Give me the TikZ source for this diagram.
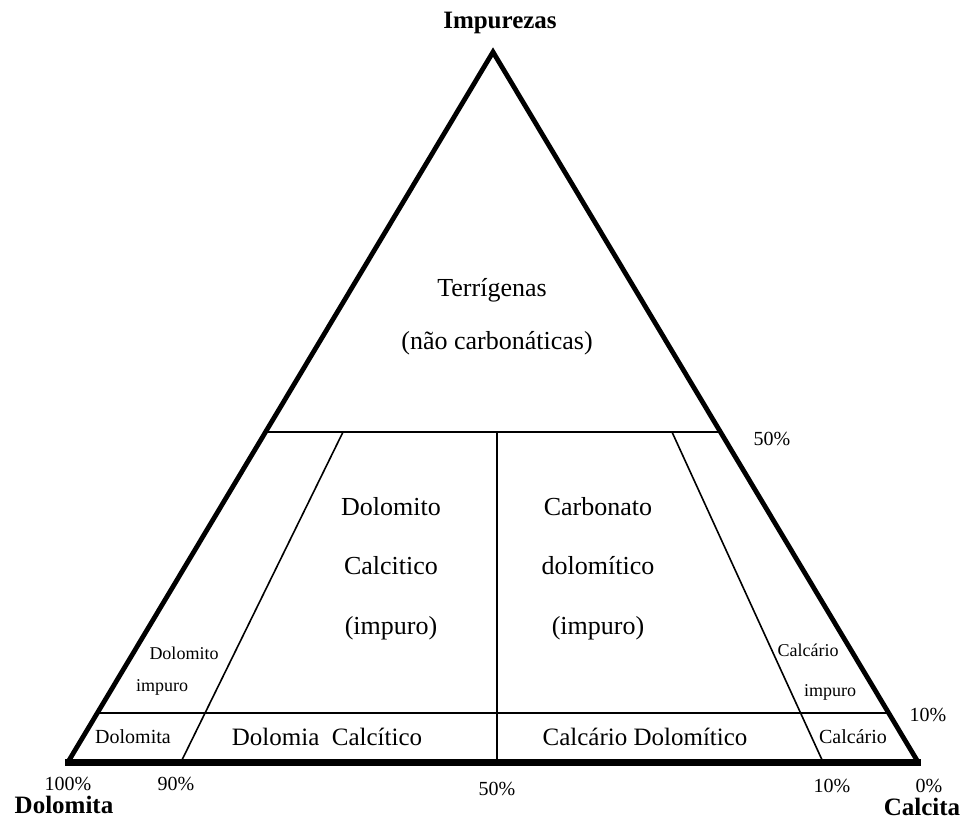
\documentclass[tikz,border=0pt]{standalone}
\usepackage{fontspec}
\setmainfont{Liberation Serif}
\usetikzlibrary{calc}

\begin{document}
\begin{tikzpicture}[x=1pt, y=-1pt,
    big/.style={font=\fontsize{26}{30}\selectfont},
    mid/.style={font=\fontsize{20}{24}\selectfont},
    small/.style={font=\fontsize{18}{22}\selectfont},
    pole/.style={font=\fontsize{25}{28}\selectfont\bfseries},
    inner/.style={line width=1.6pt}]
        \useasboundingbox (0,0) rectangle (963,820);
        % Corners of the triangle
        \coordinate (top) at (493,52);
        \coordinate (dol) at (68,762);
        \coordinate (cal) at (918,762);
        % Limits at 50% and 10% impurities
        \coordinate (l50) at ($(dol)!0.4648!(top)$);
        \coordinate (r50) at ($(cal)!0.4648!(top)$);
        \coordinate (l10) at ($(dol)!0.069!(top)$);
        \coordinate (r10) at ($(cal)!0.069!(top)$);
        % Inner boundaries
        \coordinate (a50) at (343,432);
        \coordinate (a0) at (181,762);
        \coordinate (m50) at (497,432);
        \coordinate (m0) at (497,762);
        \coordinate (b50) at (672,432);
        \coordinate (b0) at (823,762);
        \draw [line width=2pt] (l50) -- (r50);
        \draw [line width=1.8pt] (l10) -- (r10);
        \draw [inner] (a50) -- (a0);
        \draw [inner] (m50) -- (m0);
        \draw [inner] (b50) -- (b0);
        % Outline
        \draw [line width=4.8pt, line join=miter] (dol) -- (top) -- (cal);
        \draw [line width=7pt] ($(dol)+(-3,0)$) -- ($(cal)+(3,0)$);
        % Fields
        \node [pole] (imp) at (500,23) {Impurezas};
        \node [big] (terr) at (492,290) {Terrígenas};
        \node [big] (terr2) at (497,343) {(não carbonáticas)};
        \node [big] (dc1) at (391,507) {Dolomito};
        \node [big] (dc2) at (391,566) {Calcitico};
        \node [big] (dc3) at (391,628) {(impuro)};
        \node [big] (cd1) at (598,507) {Carbonato};
        \node [big] (cd2) at (598,566) {dolomítico};
        \node [big] (cd3) at (598,628) {(impuro)};
        \node [small] (di1) at (184,653) {Dolomito};
        \node [small] (di2) at (162,687) {impuro};
        \node [small] (ci1) at (808,650) {Calcário};
        \node [small] (ci2) at (830,692) {impuro};
        \node [mid] (dm) at (133,737) {Dolomita};
        \node [font=\fontsize{25}{28}\selectfont] (dmc) at (327,737) {Dolomia\ \ Calcítico};
        \node [font=\fontsize{25}{28}\selectfont] (cdm) at (645,737) {Calcário Dolomítico};
        \node [mid] (cm) at (853,737) {Calcário};
        % Percentages
        \node [mid] (p50r) at (772,439) {50\%};
        \node [mid] (p10r) at (928,715) {10\%};
        \node [mid] (p100) at (68,784) {100\%};
        \node [mid] (p90) at (176,784) {90\%};
        \node [mid] (p50) at (497,789) {50\%};
        \node [mid] (p10) at (832,786) {10\%};
        \node [mid] (p0) at (929,786) {0\%};
        \node [pole] (dolo) at (64,805) {Dolomita};
        \node [pole] (calc) at (922,807) {Calcita};
    \end{tikzpicture}
\end{document}
